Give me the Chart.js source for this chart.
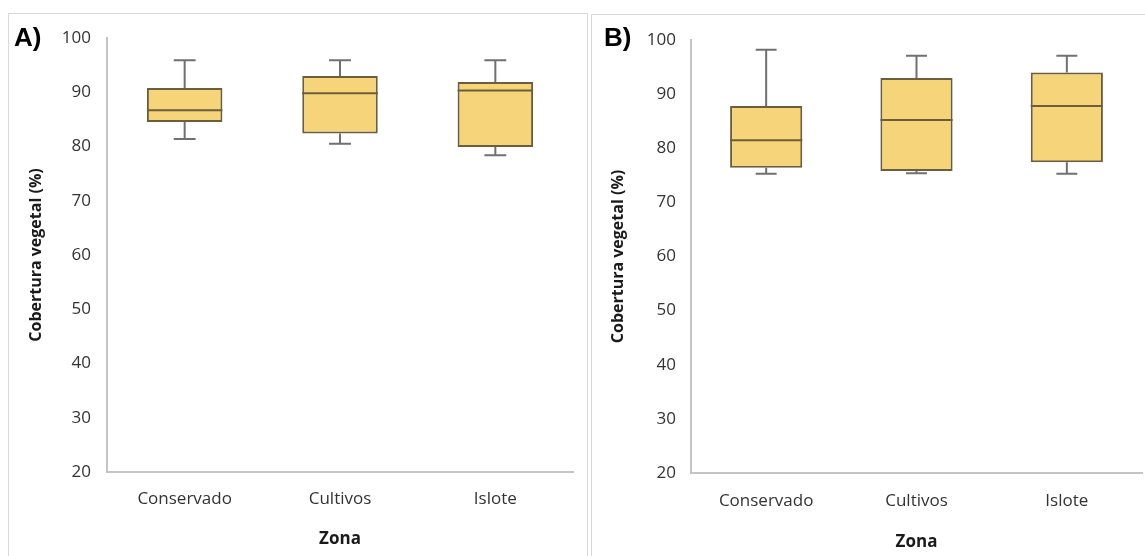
<!DOCTYPE html>
<html>
<head>
<meta charset="utf-8">
<script src="https://cdn.jsdelivr.net/npm/chart.js@4/dist/chart.umd.min.js"></script>
<style>
  html, body { margin: 0; padding: 0; background: #fff; }
  body { width: 1145px; height: 556px; position: relative; overflow: hidden; }
  .panel { position: absolute; border: 1.5px solid #d9d9d9; box-sizing: border-box; }
  #panelA { left: 8px; top: 13px; width: 580px; height: 580px; }
  #panelB { left: 591px; top: 14px; width: 600px; height: 580px; }
  canvas { position: absolute; left: 0; top: 0; }
  .tag { position: absolute; font: bold 26px 'Liberation Sans', Arial, sans-serif; color: #000; line-height: 1; }
  #tagA { left: 14px; top: 24px; }
  #tagB { left: 604px; top: 24px; }
</style>
</head>
<body>
<div class="panel" id="panelA"></div>
<div class="panel" id="panelB"></div>
<canvas id="chartA" width="1145" height="556"></canvas>
<canvas id="chartB" width="1145" height="556"></canvas>
<div class="tag" id="tagA">A)</div>
<div class="tag" id="tagB">B)</div>
<script>
// Zonas de muestreo
const zonas = ['Conservado', 'Cultivos', 'Islote'];

// Panel A: cobertura vegetal (%) - resumen de cajas
const minA = [81.4, 80.5, 78.4];
const q1A  = [84.5, 82.4, 79.9];
const medA = [86.7, 89.8, 90.3];
const q3A  = [90.8, 93.0, 91.9];
const maxA = [95.9, 95.9, 95.9];

// Panel B: cobertura vegetal (%) - resumen de cajas
const minB = [75.3, 75.4, 75.3];
const q1B  = [76.4, 75.8, 77.4];
const medB = [81.5, 85.2, 87.8];
const q3B  = [87.8, 93.0, 94.0];
const maxB = [98.2, 97.1, 97.1];

// Eje Y
const yMin = 20;
const yMax = 100;
const yStep = 10;

Chart.defaults.font.family = "'Open Sans', sans-serif";

const BOX_FILL = '#f6d57a';
const BOX_EDGE = '#6c5e3c';
const WHISKER = '#707070';

// Draws whiskers (behind the boxes) and medians (on top) from the stats of each dataset
const boxplotPlugin = {
  id: 'boxplot',
  beforeDatasetsDraw(chart) {
    const { ctx, scales: { y } } = chart;
    const ds = chart.data.datasets[0];
    const meta = chart.getDatasetMeta(0);
    ctx.save();
    ctx.strokeStyle = WHISKER;
    ctx.lineWidth = 2;
    meta.data.forEach((bar, i) => {
      const x = bar.x;
      const cap = bar.width * 0.29;
      const yLo = y.getPixelForValue(ds.stats.min[i]);
      const yHi = y.getPixelForValue(ds.stats.max[i]);
      const yQ1 = y.getPixelForValue(ds.stats.q1[i]);
      const yQ3 = y.getPixelForValue(ds.stats.q3[i]);
      ctx.beginPath();
      ctx.moveTo(x, yQ3); ctx.lineTo(x, yHi);
      ctx.moveTo(x - cap / 2, yHi); ctx.lineTo(x + cap / 2, yHi);
      ctx.moveTo(x, yQ1); ctx.lineTo(x, yLo);
      ctx.moveTo(x - cap / 2, yLo); ctx.lineTo(x + cap / 2, yLo);
      ctx.stroke();
    });
    ctx.restore();
  },
  afterDatasetsDraw(chart) {
    const { ctx, scales: { y } } = chart;
    const ds = chart.data.datasets[0];
    const meta = chart.getDatasetMeta(0);
    ctx.save();
    ctx.strokeStyle = BOX_EDGE;
    ctx.lineWidth = 2;
    meta.data.forEach((bar, i) => {
      const ym = y.getPixelForValue(ds.stats.med[i]);
      ctx.beginPath();
      ctx.moveTo(bar.x - bar.width / 2, ym);
      ctx.lineTo(bar.x + bar.width / 2, ym);
      ctx.stroke();
    });
    ctx.restore();
  }
};

function makeBoxChart(canvasId, stats, cfg) {
  const boxes = stats.q1.map((v, i) => [v, stats.q3[i]]);
  return new Chart(document.getElementById(canvasId), {
    type: 'bar',
    data: {
      labels: zonas,
      datasets: [{
        data: boxes,
        stats: stats,
        backgroundColor: BOX_FILL,
        borderColor: BOX_EDGE,
        borderWidth: 2,
        borderSkipped: false,
        barPercentage: cfg.barPct,
        categoryPercentage: 1
      }]
    },
    options: {
      responsive: false,
      animation: false,
      events: [],
      layout: { padding: cfg.padding },
      plugins: { legend: { display: false }, tooltip: { enabled: false } },
      scales: {
        x: {
          grid: { display: false, drawTicks: false },
          border: { display: true, color: '#c4c4c4', width: 2 },
          ticks: { color: '#333', font: { size: 17 }, padding: cfg.xTickPad },
          title: { display: true, text: 'Zona', color: '#1a1a1a',
                   font: { size: 17, weight: 'bold' }, padding: { top: 0, bottom: cfg.xTitlePad } },
          afterFit: s => { s.height = cfg.xHeight; }
        },
        y: {
          min: yMin, max: yMax,
          grid: { display: false, drawTicks: false },
          border: { display: true, color: '#c4c4c4', width: 2 },
          ticks: { stepSize: yStep, color: '#333', font: { size: 17 }, padding: cfg.yTickPad },
          title: { display: true, text: 'Cobertura vegetal (%)', color: '#1a1a1a',
                   font: { size: 16, weight: 'bold' }, padding: { top: cfg.yTitlePad, bottom: 0 } },
          afterFit: s => { s.width = cfg.yWidth; }
        }
      }
    },
    plugins: [boxplotPlugin]
  });
}

makeBoxChart('chartA', { min: minA, q1: q1A, med: medA, q3: q3A, max: maxA }, {
  padding: { left: 0, right: 572, top: 38, bottom: 0 },
  yWidth: 107, xHeight: 84, barPct: 0.486,
  xTickPad: 17, xTitlePad: 6.5, yTickPad: 16, yTitlePad: 26.4
});

makeBoxChart('chartB', { min: minB, q1: q1B, med: medB, q3: q3B, max: maxB }, {
  padding: { left: 591, right: 3, top: 40, bottom: 0 },
  yWidth: 100, xHeight: 83, barPct: 0.48,
  xTickPad: 17.5, xTitlePad: 4, yTickPad: 15, yTitlePad: 17.4
});
</script>
</body>
</html>
